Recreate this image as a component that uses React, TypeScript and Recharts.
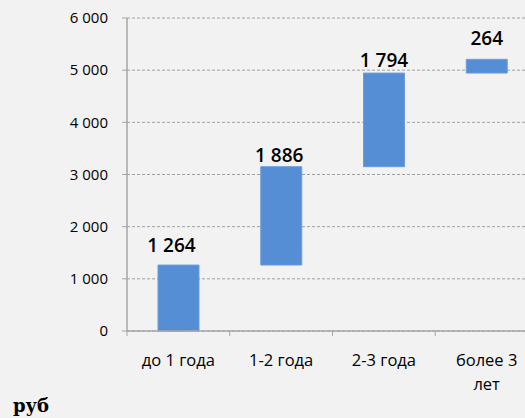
import React from "react";
import { BarChart, Bar, XAxis, YAxis, CartesianGrid, LabelList } from "recharts";

const categories = ["до 1 года", "1-2 года", "2-3 года", "более 3\nлет"];
const values = [1264, 1886, 1794, 264];
const yTicks = [0, 1000, 2000, 3000, 4000, 5000, 6000];
const unitLabel = "руб";

// label nudges (style only)
const labelGap = [10, 2, 3, 11];
const labelDx = [-7, -2, 0, 0];

const fmt = (n: number) => String(n).replace(/\B(?=(\d{3})+(?!\d))/g, " ");

const data = (() => {
  let acc = 0;
  return categories.map((c, i) => {
    const row = { name: c, base: acc, value: values[i] };
    acc += values[i];
    return row;
  });
})();

const FONT = "'Open Sans', sans-serif";
const AXIS = "#a6a6a6";

const CatTick = (props: any) => {
  const { x, y, payload, width } = props;
  const band = width / categories.length;
  const lines = String(payload.value).split("\n");
  return (
    <g>
      <line x1={x - band / 2} x2={x - band / 2} y1={y} y2={y + 5} stroke={AXIS} strokeWidth={1} />
      <text x={x} y={y + 35} textAnchor="middle" fontFamily={FONT} fontSize={16.5} fill="#000">
        {lines.map((l, i) => (
          <tspan key={i} x={x} dy={i === 0 ? 0 : 24}>
            {l}
          </tspan>
        ))}
      </text>
    </g>
  );
};

const ValueLabel = (props: any) => {
  const { x, y, width, value, index } = props;
  return (
    <text
      x={x + width / 2 + labelDx[index]}
      y={y - labelGap[index] - 3}
      textAnchor="middle"
      fontFamily={FONT}
      fontWeight={600}
      fontSize={19}
      fill="#000"
    >
      {fmt(value)}
    </text>
  );
};

export default function App() {
  return (
    <div style={{ position: "absolute", left: 0, top: 0, width: 525, height: 418, background: "#f2f2f2", overflow: "hidden" }}>
      <div style={{ position: "absolute", left: 0, top: 0, width: 525, height: 392, overflow: "hidden" }}>
        <BarChart
          width={538}
          height={391}
          data={data}
          margin={{ top: 18, right: 0, left: 0, bottom: 0 }}
          barSize={41}
        >
          <CartesianGrid horizontal vertical={false} stroke="#a0a0a0" strokeDasharray="3 2" />
          <XAxis
            dataKey="name"
            height={60}
            interval={0}
            tickLine={false}
            tickSize={0}
            tickMargin={0}
            axisLine={{ stroke: AXIS, strokeWidth: 1.5 }}
            tick={<CatTick />}
          />
          <YAxis
            width={127}
            domain={[0, 6000]}
            ticks={yTicks}
            interval={0}
            tickFormatter={fmt}
            tickSize={5}
            tickMargin={14}
            axisLine={{ stroke: AXIS, strokeWidth: 1.5 }}
            tickLine={{ stroke: AXIS }}
            tick={{ fontFamily: FONT, fontSize: 15, fill: "#000" }}
          />
          <Bar dataKey="base" stackId="a" fill="transparent" isAnimationActive={false} />
          <Bar dataKey="value" stackId="a" fill="#558ed5" stroke="#6b9de0" strokeWidth={1} isAnimationActive={false}>
            <LabelList dataKey="value" content={<ValueLabel />} />
          </Bar>
        </BarChart>
      </div>
      <div
        style={{
          position: "absolute",
          left: 13,
          top: 396,
          fontFamily: "'DejaVu Serif', serif",
          fontWeight: 700,
          fontSize: 18,
          lineHeight: "20px",
          color: "#000",
        }}
      >
        {unitLabel}
      </div>
    </div>
  );
}
